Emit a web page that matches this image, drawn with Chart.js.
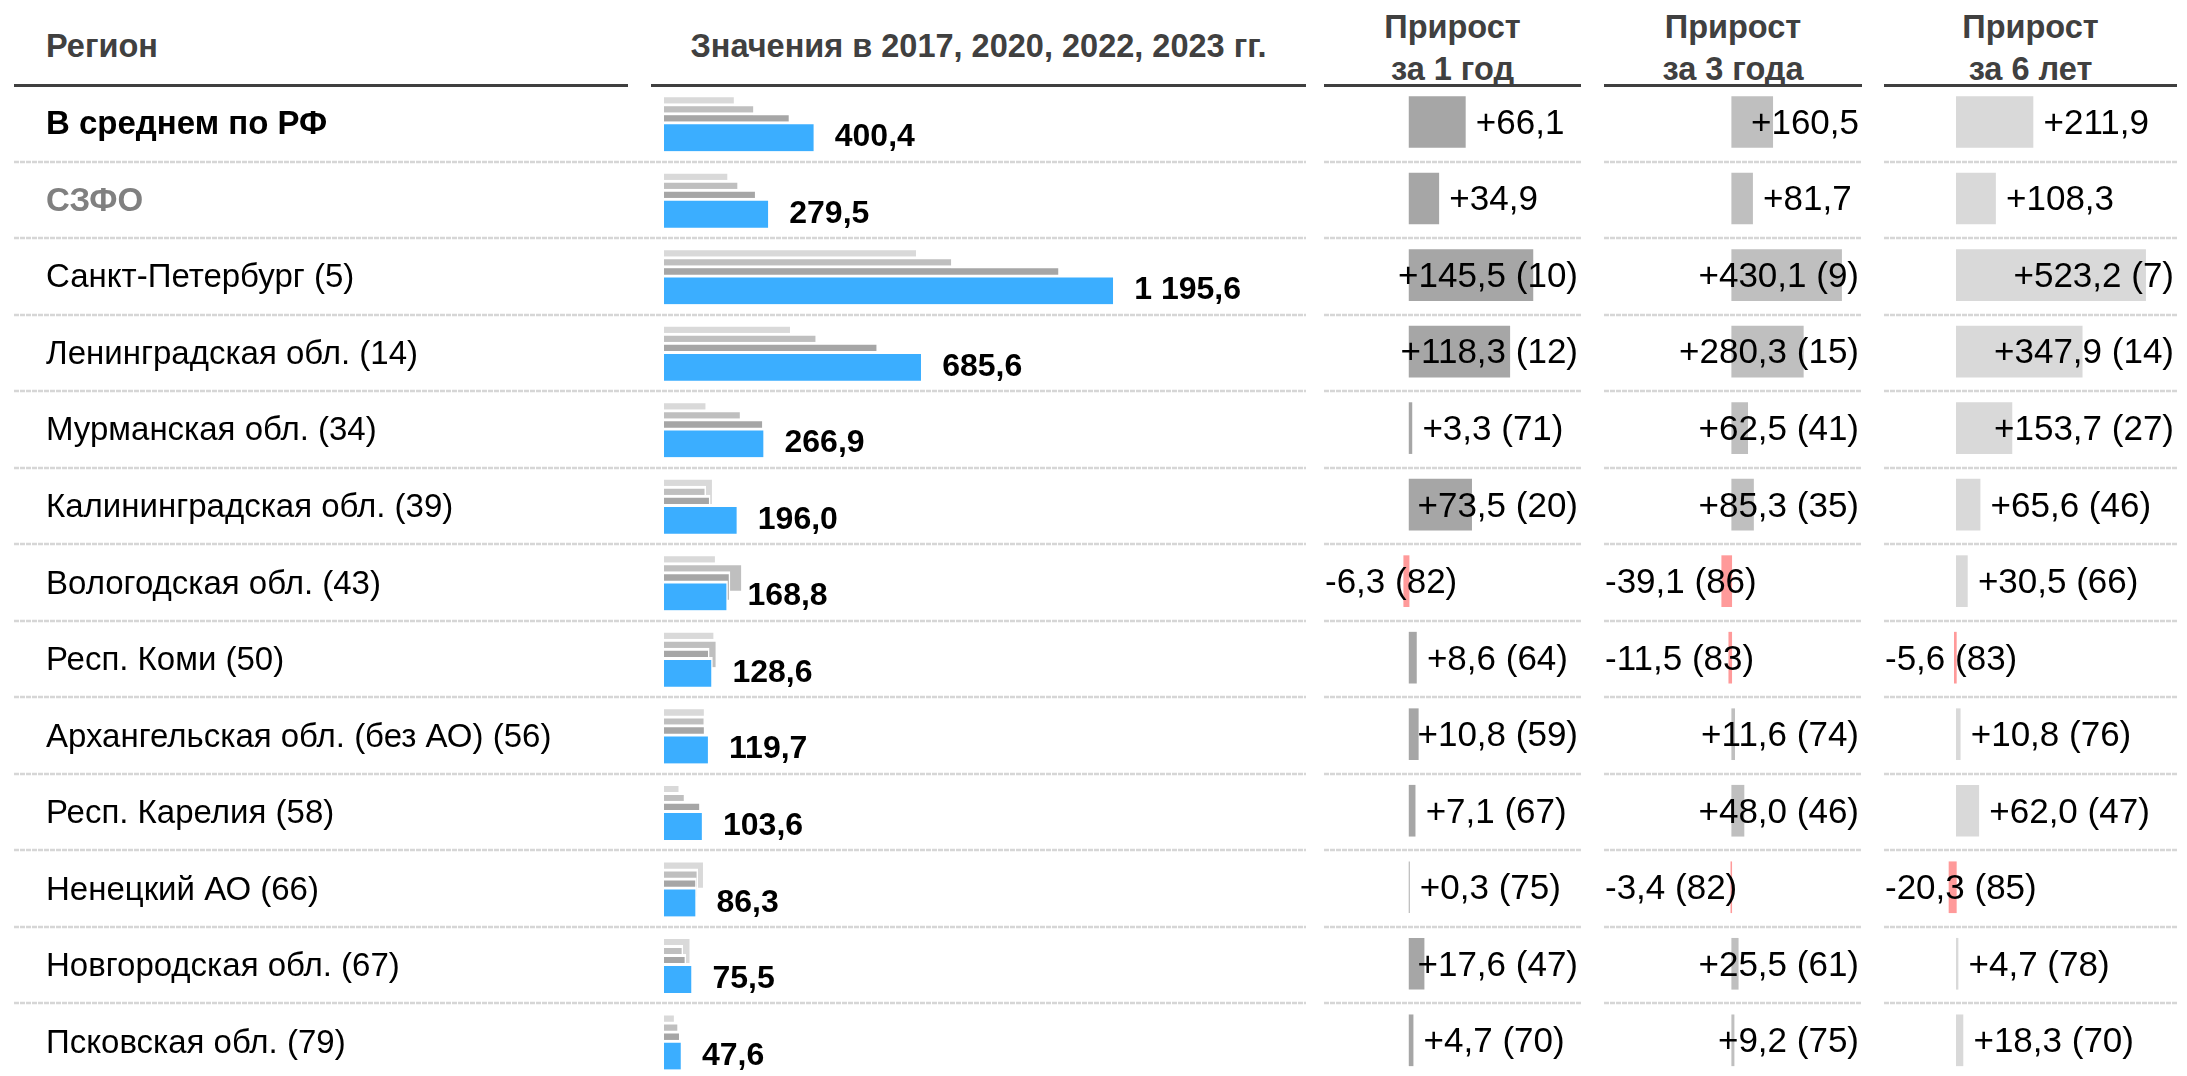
<!DOCTYPE html>
<html lang="ru">
<head>
<meta charset="utf-8">
<title>СЗФО: значения и прирост по регионам</title>
<script src="https://cdn.jsdelivr.net/npm/chart.js@4.4.1/dist/chart.umd.min.js"></script>
<style>
  html, body { margin: 0; padding: 0; background: #ffffff; overflow: hidden; }
  body { position: relative; width: 2187px; height: 1076px; font-family: "Liberation Sans", Arial, sans-serif; }
  .hd { position: absolute; font-weight: bold; font-size: 32.5px; color: #404040; white-space: nowrap; text-align: center; }
  .rule { position: absolute; top: 84px; height: 3px; background: #3f3f3f; }
  .col { position: absolute; top: 0; }
  canvas { display: block; }
</style>
</head>
<body>

<div class="hd" style="left:46px; top:26px; line-height:40px; text-align:left;">Регион</div>
<div class="hd" style="left:651px; width:655px; top:26px; line-height:40px;">Значения в 2017, 2020, 2022, 2023 гг.</div>
<div class="hd" style="left:1324px; width:257px; top:6px; line-height:42px;">Прирост<br>за 1 год</div>
<div class="hd" style="left:1604px; width:258px; top:6px; line-height:42px;">Прирост<br>за 3 года</div>
<div class="hd" style="left:1884px; width:293px; top:6px; line-height:42px;">Прирост<br>за 6 лет</div>

<div class="rule" style="left:14px; width:614px;"></div>
<div class="rule" style="left:651px; width:655px;"></div>
<div class="rule" style="left:1324px; width:257px;"></div>
<div class="rule" style="left:1604px; width:258px;"></div>
<div class="rule" style="left:1884px; width:293px;"></div>

<div class="col" style="left:0px;"><canvas id="values" width="1310" height="1076"></canvas></div>
<div class="col" style="left:1324px;"><canvas id="growth1" width="257" height="1076"></canvas></div>
<div class="col" style="left:1604px;"><canvas id="growth3" width="258" height="1076"></canvas></div>
<div class="col" style="left:1884px;"><canvas id="growth6" width="293" height="1076"></canvas></div>

<script>
// Regions (rank among all regions in parentheses)
const REGIONS = [
  'В среднем по РФ',
  'СЗФО',
  'Санкт-Петербург (5)',
  'Ленинградская обл. (14)',
  'Мурманская обл. (34)',
  'Калининградская обл. (39)',
  'Вологодская обл. (43)',
  'Респ. Коми (50)',
  'Архангельская обл. (без АО) (56)',
  'Респ. Карелия (58)',
  'Ненецкий АО (66)',
  'Новгородская обл. (67)',
  'Псковская обл. (79)'
];

// Values by year
const VALUES_2017 = [188.5, 171.2, 672.4, 337.7, 113.2, 130.4, 138.3, 134.2, 108.9, 41.6, 106.6, 70.8, 29.3];
const VALUES_2020 = [239.9, 197.8, 765.5, 405.3, 204.4, 110.7, 207.9, 140.1, 108.1, 55.6, 89.7, 50.0, 38.4];
const VALUES_2022 = [334.3, 244.6, 1050.1, 567.3, 263.6, 122.5, 175.1, 120.0, 108.9, 96.5, 86.0, 57.9, 42.9];
const VALUES_2023 = [400.4, 279.5, 1195.6, 685.6, 266.9, 196.0, 168.8, 128.6, 119.7, 103.6, 86.3, 75.5, 47.6];

// Growth over 1, 3 and 6 years, with rank
const GROWTH_1Y = [66.1, 34.9, 145.5, 118.3, 3.3, 73.5, -6.3, 8.6, 10.8, 7.1, 0.3, 17.6, 4.7];
const RANK_1Y   = [null, null, 10, 12, 71, 20, 82, 64, 59, 67, 75, 47, 70];
const GROWTH_3Y = [160.5, 81.7, 430.1, 280.3, 62.5, 85.3, -39.1, -11.5, 11.6, 48.0, -3.4, 25.5, 9.2];
const RANK_3Y   = [null, null, 9, 15, 41, 35, 86, 83, 74, 46, 82, 61, 75];
const GROWTH_6Y = [211.9, 108.3, 523.2, 347.9, 153.7, 65.6, 30.5, -5.6, 10.8, 62.0, -20.3, 4.7, 18.3];
const RANK_6Y   = [null, null, 7, 14, 27, 46, 66, 83, 76, 47, 85, 78, 70];

const FONT = '"Liberation Sans", Arial, sans-serif';
const ROWS_SHOWN = 12.95;          // the last row runs off the bottom edge
const NEGATIVE = '#ff9a9a';

function fmtNum(v) {
  const parts = Math.abs(v).toFixed(1).split('.');
  const whole = parts[0].replace(/\B(?=(\d{3})+(?!\d))/g, ' ');
  return (v < 0 ? '-' : '') + whole + ',' + parts[1];
}
function fmtGrowth(v, rank) {
  return (v > 0 ? '+' : '') + fmtNum(v) + (rank == null ? '' : ' (' + rank + ')');
}

// dashed separators between rows
const rowRules = {
  id: 'rowRules',
  beforeDatasetsDraw(chart, args, opts) {
    const { ctx, chartArea } = chart;
    const y = chart.scales.y;
    const x0 = opts.left != null ? opts.left : chartArea.left;
    ctx.save();
    ctx.strokeStyle = '#d6d6d6';
    ctx.lineWidth = 2.5;
    ctx.setLineDash([5, 1]);
    for (let k = 1; k < REGIONS.length; k++) {
      const py = Math.round(y.getPixelForValue(k));
      ctx.beginPath();
      ctx.moveTo(x0, py);
      ctx.lineTo(chartArea.right, py);
      ctx.stroke();
    }
    ctx.restore();
  }
};

// bold value labels next to the 2023 bars
const valueLabels = {
  id: 'valueLabels',
  afterDatasetsDraw(chart) {
    const { ctx } = chart;
    const meta = chart.getDatasetMeta(0);
    const data = chart.data.datasets[0].data;
    ctx.save();
    ctx.font = 'bold 32px ' + FONT;
    ctx.fillStyle = '#000000';
    ctx.textAlign = 'left';
    ctx.textBaseline = 'middle';
    meta.data.forEach((bar, i) => {
      ctx.fillText(fmtNum(data[i].x), bar.x + 20, bar.y + 1);
    });
    ctx.restore();
  }
};

// growth labels: right of the bar end (left for negatives), kept inside the column
const growthLabels = {
  id: 'growthLabels',
  afterDatasetsDraw(chart, args, opts) {
    const { ctx, chartArea } = chart;
    const y = chart.scales.y;
    const meta = chart.getDatasetMeta(0);
    const data = chart.data.datasets[0].data;
    ctx.save();
    ctx.font = '35px ' + FONT;
    ctx.fillStyle = '#000000';
    ctx.textAlign = 'left';
    ctx.textBaseline = 'middle';
    meta.data.forEach((bar, i) => {
      const v = data[i].x;
      const text = fmtGrowth(v, opts.ranks[i]);
      const w = ctx.measureText(text).width;
      let x = v >= 0 ? bar.x + 10.5 : bar.x - 10.5 - w;
      x = Math.min(x, chartArea.right - 3 - w);
      x = Math.max(x, chartArea.left + 1);
      ctx.fillText(text, x, y.getPixelForValue(i + 0.5) + 1);
    });
    ctx.restore();
  }
};

function rowAxis(extra) {
  return Object.assign({
    type: 'linear', reverse: true, offset: false,
    min: 0, max: ROWS_SHOWN,
    grid: { display: false }, border: { display: false }
  }, extra);
}

const yearBorder = { top: 3, right: 1.5, bottom: 0, left: 0 };
function yearSet(label, values, color, slot, thickness, order) {
  return {
    label, order,
    data: values.map((v, i) => ({ x: v, y: i + slot })),
    backgroundColor: color,
    borderColor: '#ffffff',
    borderWidth: yearBorder,
    borderSkipped: false,
    barThickness: thickness,
    grouped: false
  };
}

Chart.defaults.font.family = FONT;

new Chart(document.getElementById('values'), {
  type: 'bar',
  data: {
    datasets: [
      yearSet('2023', VALUES_2023, '#3baeff', 0.672, 29.5, 0),
      yearSet('2022', VALUES_2022, '#a6a6a6', 0.542, 28, 1),
      yearSet('2020', VALUES_2020, '#bfbfbf', 0.425, 28, 2),
      yearSet('2017', VALUES_2017, '#d9d9d9', 0.307, 28, 3)
    ]
  },
  options: {
    indexAxis: 'y',
    responsive: false,
    animation: false,
    devicePixelRatio: 1,
    layout: { padding: { left: 46, top: 85, right: 4, bottom: 0 } },
    scales: {
      x: { type: 'linear', display: false, min: 0, max: 1705, stacked: false },
      y: rowAxis({
        position: 'left',
        display: true,
        afterBuildTicks: (scale) => { scale.ticks = REGIONS.map((_, i) => ({ value: i + 0.5 })); },
        afterFit: (scale) => {
          // the name column is a fixed width; labels must not shrink the rows
          scale.width = 618;
          scale.paddingTop = 0;
          scale.paddingBottom = 0;
        },
        ticks: {
          autoSkip: false,
          crossAlign: 'far',
          padding: 0,
          labelOffset: 2,
          callback: (value, index) => REGIONS[index],
          color: (c) => (c.index === 1 ? '#808080' : '#000000'),
          font: (c) => ({ family: FONT, size: 33, weight: c.index < 2 ? 'bold' : 'normal' })
        }
      })
    },
    plugins: {
      legend: { display: false },
      tooltip: { enabled: false },
      rowRules: { left: 14 }
    }
  },
  plugins: [rowRules, valueLabels]
});

function growthChart(id, label, values, ranks, color, xMin, xMax) {
  new Chart(document.getElementById(id), {
    type: 'bar',
    data: {
      datasets: [{
        label,
        data: values.map((v, i) => ({ x: v, y: i + 0.4835 })),
        backgroundColor: values.map((v) => (v < 0 ? NEGATIVE : color)),
        borderWidth: 0,
        barThickness: 51,
        grouped: false
      }]
    },
    options: {
      indexAxis: 'y',
      responsive: false,
      animation: false,
      devicePixelRatio: 1,
      layout: { padding: { left: 0, top: 85, right: 0, bottom: 0 } },
      scales: {
        x: { type: 'linear', display: false, min: xMin, max: xMax },
        y: rowAxis({ display: false })
      },
      plugins: {
        legend: { display: false },
        tooltip: { enabled: false },
        rowRules: {},
        growthLabels: { ranks }
      }
    },
    plugins: [rowRules, growthLabels]
  });
}

growthChart('growth1', 'Прирост за 1 год', GROWTH_1Y, RANK_1Y, '#a6a6a6', -100, 202);
growthChart('growth3', 'Прирост за 3 года', GROWTH_3Y, RANK_3Y, '#bfbfbf', -500, 510);
growthChart('growth6', 'Прирост за 6 лет', GROWTH_6Y, RANK_6Y, '#d9d9d9', -200, 610);
</script>
</body>
</html>
